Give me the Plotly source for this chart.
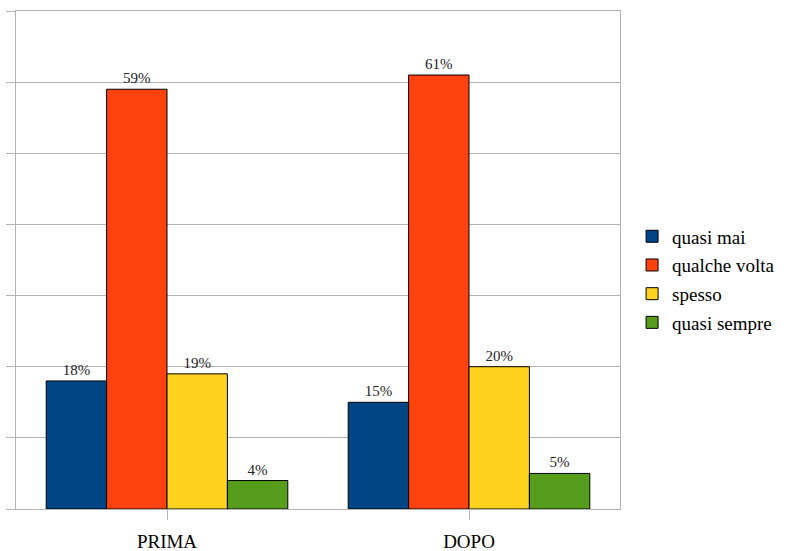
import plotly.graph_objects as go

categories = ["PRIMA", "DOPO"]
series_names = ["quasi mai", "qualche volta", "spesso", "quasi sempre"]
quasi_mai = [18, 15]
qualche_volta = [59, 61]
spesso = [19, 20]
quasi_sempre = [4, 5]
values = [quasi_mai, qualche_volta, spesso, quasi_sempre]
colors = ["#004586", "#ff420e", "#ffd320", "#579d1c"]
y_ticks = [0, 10, 20, 30, 40, 50, 60, 70]

SERIF = "Liberation Serif"

fig = go.Figure()
for name, vals, col in zip(series_names, values, colors):
    fig.add_trace(go.Bar(
        name=name, x=categories, y=vals, legendgroup=name,
        marker=dict(color=col, line=dict(color="#000000", width=1)),
        text=[f"{v}%" for v in vals], textposition="outside",
        textfont=dict(family=SERIF, size=15, color="#222222"),
        cliponaxis=False,
    ))

fig.update_layout(
    width=803, height=551,
    margin=dict(l=16, r=183, t=11, b=42, autoexpand=False),
    paper_bgcolor="white", plot_bgcolor="white",
    barmode="group", bargap=0.2, bargroupgap=0,
    showlegend=True,
    legend=dict(x=1.02, xanchor="left", y=0.461, yanchor="middle",
                font=dict(family=SERIF, size=19, color="#000000"),
                bgcolor="rgba(0,0,0,0)", tracegroupgap=1),
    font=dict(family=SERIF, color="#000000"),
)
fig.update_yaxes(range=[0, 70], tickvals=y_ticks, showticklabels=False,
                 showgrid=True, gridcolor="#b3b3b3", gridwidth=1,
                 showline=True, linecolor="#b3b3b3", linewidth=1, mirror=True,
                 ticks="outside", ticklen=9, tickcolor="#b3b3b3", zeroline=False,
                 automargin=False)
fig.update_xaxes(showline=True, linecolor="#b3b3b3", linewidth=1, mirror=True,
                 ticks="outside", ticklen=10, tickcolor="#b3b3b3",
                 tickfont=dict(family=SERIF, size=19, color="#000000"),
                 ticklabelstandoff=5, automargin=False)

post = (
    "document.body.style.margin='0';"
    "document.querySelectorAll('.legendtext').forEach(function(e){e.style.fontFamily=\"'Liberation Serif', serif\";});"
)
fig.write_html("out.html", post_script=post, config={"displayModeBar": False})
